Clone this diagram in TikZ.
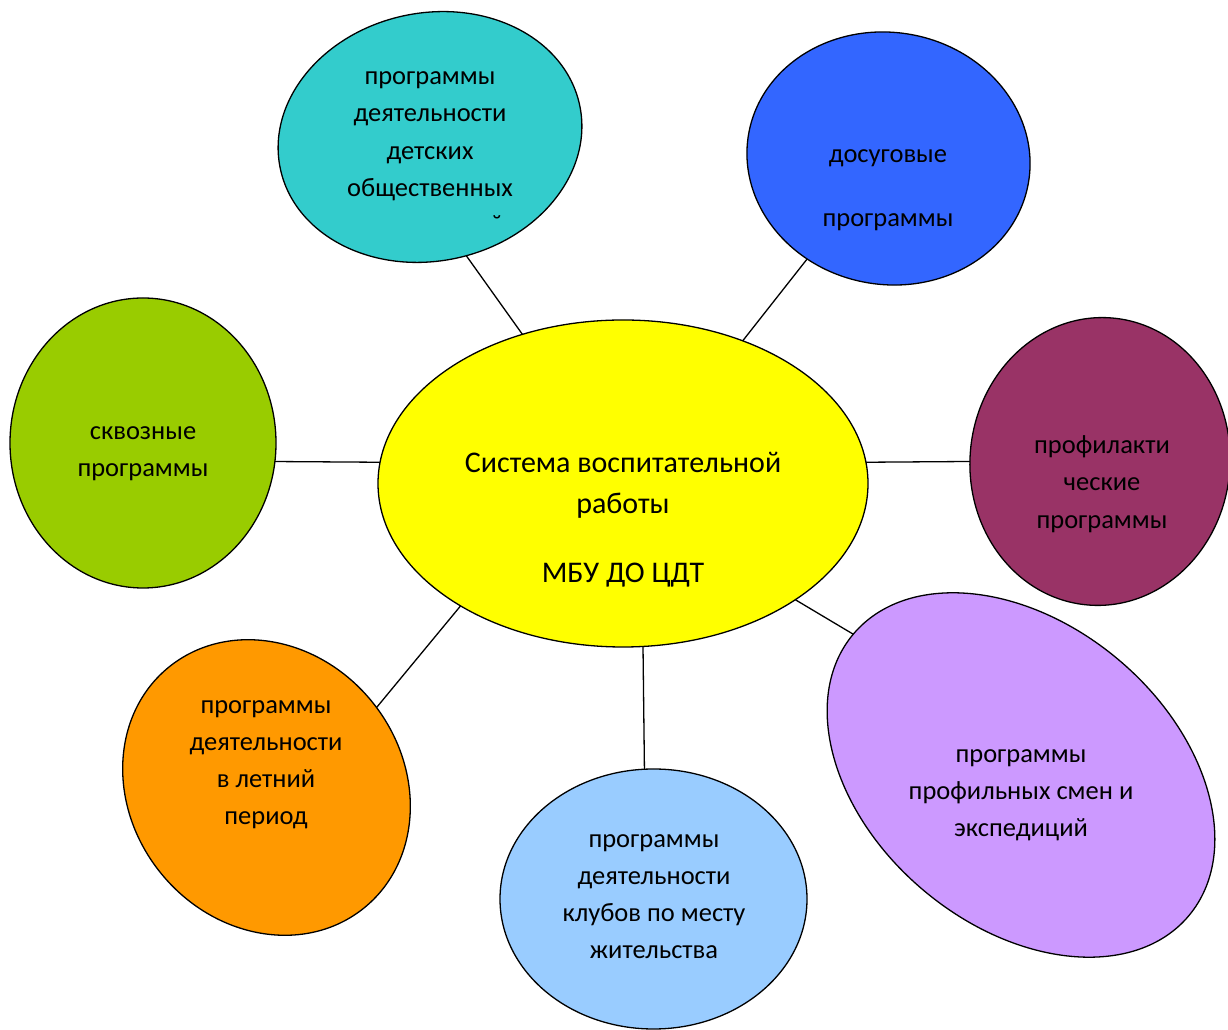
\documentclass[tikz,border=0pt]{standalone}
\usepackage{fontspec}
\setmainfont{Carlito}
\usetikzlibrary{shapes.geometric}
\definecolor{cTeal}{HTML}{33CCCC}
\definecolor{cBlue}{HTML}{3366FF}
\definecolor{cGreen}{HTML}{99CC00}
\definecolor{cMaroon}{HTML}{993366}
\definecolor{cPurple}{HTML}{CC99FF}
\definecolor{cOrange}{HTML}{FF9900}
\definecolor{cLBlue}{HTML}{99CCFF}
\definecolor{cYellow}{HTML}{FFFF00}
\begin{document}
\begin{tikzpicture}[x=1pt,y=1pt,
  bubble/.style={ellipse, draw=black, line width=1.3pt, inner sep=0pt, outer sep=0pt},
  txt/.style={anchor=base, inner sep=0pt, font=\fontsize{26.5}{32}\selectfont},
  big/.style={anchor=base, inner sep=0pt, font=\fontsize{30}{36}\selectfont},
  link/.style={draw=black, line width=1.3pt}]
\useasboundingbox (0,0) rectangle (1228,1030);
\fill[white] (0,0) rectangle (1228,1030);
% bubbles
\node[bubble, fill=cYellow, minimum width=490, minimum height=327] (c) at (623,546.5) {};
\node[bubble, fill=cTeal, minimum width=306, minimum height=248, rotate=12] (teal) at (430,893) {};
\node[bubble, fill=cBlue, minimum width=284, minimum height=252, rotate=-10] (blue) at (888.5,871.5) {};
\node[bubble, fill=cGreen, minimum width=266, minimum height=290] (green) at (143,587) {};
\node[bubble, fill=cMaroon, minimum width=260, minimum height=288, rotate=-5] (maroon) at (1100,568.5) {};
\node[bubble, fill=cOrange, minimum width=310, minimum height=272, rotate=-51] (orange) at (266.5,242.5) {};
\node[bubble, fill=cLBlue, minimum width=307, minimum height=260] (lblue) at (653.5,131) {};
\node[bubble, fill=cPurple, minimum width=438, minimum height=302, rotate=-40] (purple) at (1021,255) {};
% connectors
\draw[link] (c.124) -- (teal.-85);
\draw[link] (c.50) -- (blue.-119);
\draw[link] (c.175) -- (green.-8);
\draw[link] (c.5) -- (maroon.185);
\draw[link] (c.-34) -- (purple.180);
\draw[link] (c.217) -- (orange.87);
\draw[link] (c.-83) -- (lblue.94);
% texts
\node[big] (cL1) at (623,557) {Система воспитательной};
\node[big] (cL2) at (623,516) {работы};
\node[big] (cL3) at (623,447) {МБУ ДО ЦДТ};
\node[txt] (tealL1) at (430,945) {программы};
\node[txt] (tealL2) at (430,908) {деятельности};
\node[txt] (tealL3) at (430,870) {детских};
\node[txt] (tealL4) at (430,833) {общественных};
\node[txt] (tealL5) at (497,796) {˘};
\node[txt] (blueL1) at (888,867) {досуговые};
\node[txt] (blueL2) at (888,803) {программы};
\node[txt] (greenL1) at (143,590) {сквозные};
\node[txt] (greenL2) at (143,553) {программы};
\node[txt] (maroonL1) at (1102,576) {профилакти};
\node[txt] (maroonL2) at (1102,539) {ческие};
\node[txt] (maroonL3) at (1102,501) {программы};
\node[txt] (orangeL1) at (266,316) {программы};
\node[txt] (orangeL2) at (266,279) {деятельности};
\node[txt] (orangeL3) at (266,242) {в летний};
\node[txt] (orangeL4) at (266,205) {период};
\node[txt] (lblueL1) at (654,182) {программы};
\node[txt] (lblueL2) at (654,145) {деятельности};
\node[txt] (lblueL3) at (654,108) {клубов по месту};
\node[txt] (lblueL4) at (654,71) {жительства};
\node[txt] (purpleL1) at (1021,267) {программы};
\node[txt] (purpleL2) at (1021,230) {профильных смен и};
\node[txt] (purpleL3) at (1021,193) {экспедиций};
\end{tikzpicture}
\end{document}
